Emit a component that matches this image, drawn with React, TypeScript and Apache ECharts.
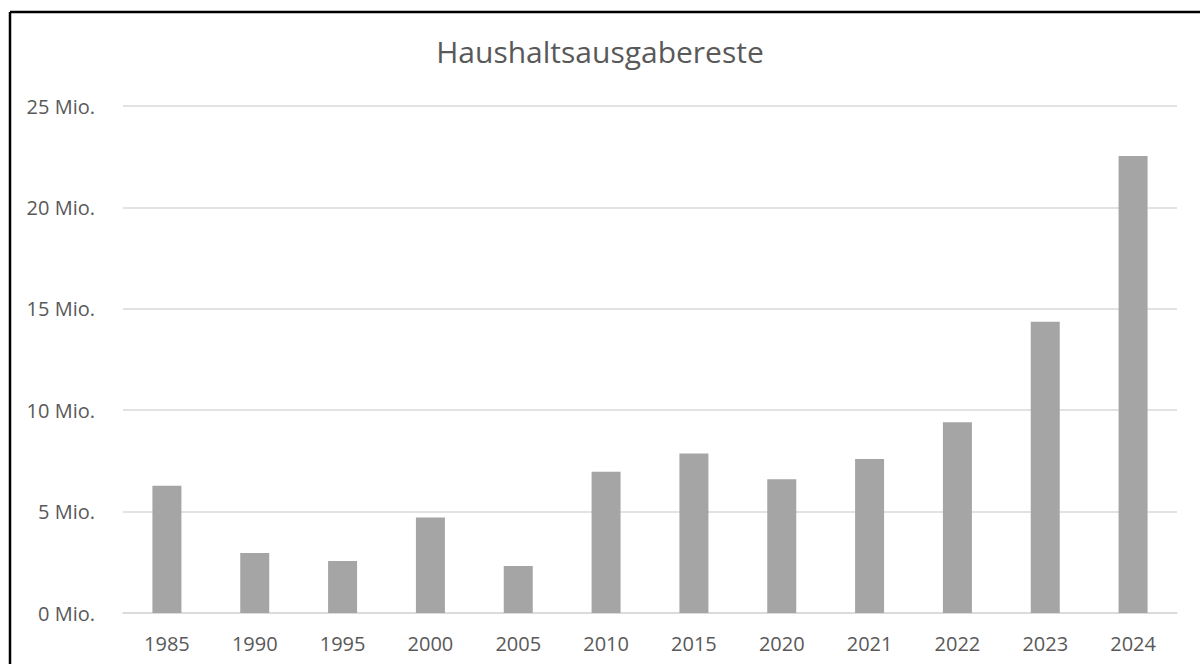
import React, { useEffect, useRef } from "react";
import * as echarts from "echarts";

const title = "Haushaltsausgabereste";
const years = ["1985", "1990", "1995", "2000", "2005", "2010", "2015", "2020", "2021", "2022", "2023", "2024"];
const valuesMio = [6.28, 2.96, 2.57, 4.71, 2.32, 6.96, 7.86, 6.6, 7.59, 9.41, 14.36, 22.54];
const yTicks = [0, 5, 10, 15, 20, 25];

const FONT = "'Open Sans', 'Noto Sans', sans-serif";
const TEXT = "#595959";

export default function App() {
  const ref = useRef<HTMLDivElement>(null);
  useEffect(() => {
    document.body.style.margin = "0";
    const chart = echarts.init(ref.current!, null, { renderer: "svg" });
    chart.setOption({
      animation: false,
      backgroundColor: "#ffffff",
      title: {
        text: title,
        left: "center",
        top: 31,
        textStyle: { fontFamily: FONT, fontSize: 30, fontWeight: "normal", color: TEXT },
      },
      grid: { left: 123, right: 23, top: 106, bottom: 51 },
      xAxis: {
        type: "category",
        data: years,
        axisLine: { lineStyle: { color: "#d9d9d9", width: 1.5 } },
        axisTick: { show: false },
        axisLabel: { fontFamily: FONT, fontSize: 20, color: TEXT, margin: 20 },
      },
      yAxis: {
        type: "value",
        min: yTicks[0],
        max: yTicks[yTicks.length - 1],
        interval: 5,
        axisLine: { show: false },
        axisTick: { show: false },
        splitLine: { lineStyle: { color: "#d9d9d9", width: 1.5 } },
        axisLabel: {
          fontFamily: FONT,
          fontSize: 20,
          color: TEXT,
          margin: 28,
          formatter: (v: number) => `${v} Mio.`,
        },
      },
      series: [
        {
          type: "bar",
          data: valuesMio,
          barWidth: 29,
          itemStyle: { color: "#a5a5a5" },
        },
      ],
      graphic: [
        { type: "line", shape: { x1: 10, y1: 12, x2: 1200, y2: 12 }, style: { stroke: "#000", lineWidth: 2.5 } },
        { type: "line", shape: { x1: 10, y1: 12, x2: 10, y2: 664 }, style: { stroke: "#000", lineWidth: 2.5 } },
      ],
    });
    return () => chart.dispose();
  }, []);
  return <div ref={ref} style={{ width: 1200, height: 664 }} />;
}
